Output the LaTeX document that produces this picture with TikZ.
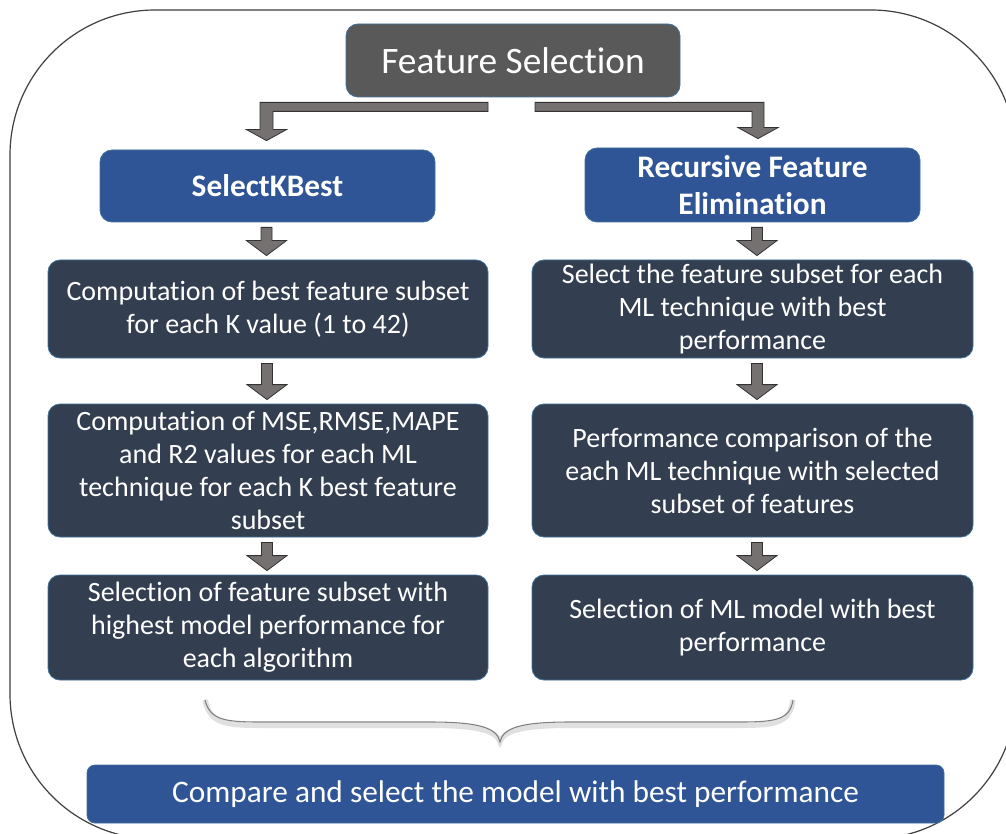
\documentclass[tikz,border=0pt]{standalone}
\usepackage{fontspec}
\setmainfont{Carlito}[Ligatures={CommonOff,ContextualOff},Contextuals=AlternateOff]
\usetikzlibrary{calc}
\definecolor{darkbox}{HTML}{333F50}
\definecolor{bluebox}{HTML}{2F5597}
\definecolor{titlebox}{HTML}{595959}
\definecolor{arrowfill}{HTML}{767171}
\definecolor{edgeblue}{HTML}{41719C}
\newcommand\downblock[3]{%
 \draw[blockarrow] let \p1=(#2.south), \p2=(#3.north) in
  ({\x1+(#1)-4.125pt},{\y1-3.75pt}) -- ({\x1+(#1)+4.125pt},{\y1-3.75pt}) --
  ({\x1+(#1)+4.125pt},{\y2+14.25pt}) -- ({\x1+(#1)+15pt},{\y2+14.25pt}) --
  ({\x1+(#1)},{\y2+3pt}) -- ({\x1+(#1)-15pt},{\y2+14.25pt}) --
  ({\x1+(#1)-4.125pt},{\y2+14.25pt}) -- cycle;}
\begin{document}
\begin{tikzpicture}[x=0.75pt,y=-0.75pt,
  base/.style={draw=edgeblue, line width=0.6pt, rounded corners=9pt, text=white, align=center, inner sep=0pt},
  darkstep/.style={base, fill=darkbox, font=\fontsize{21}{24.75}\selectfont},
  headbox/.style={base, fill=bluebox, font=\fontsize{23.5}{27.75}\selectfont\bfseries, minimum width=251.25pt},
  blockarrow/.style={fill=arrowfill, draw=black!80, line width=0.6pt},
  bracestyle/.style={draw=black!50, line width=0.8pt},
  frame/.style={draw=black!75, line width=0.9pt, rounded corners=108.75pt}]
\useasboundingbox (0,0) rectangle (1006,834);
\clip (0,0) rectangle (1006,834);
\fill[white] (0,0) rectangle (1006,834);
\draw[frame] (10,10) rectangle (1016,839);

\node[base, fill=titlebox, minimum width=250.5pt, minimum height=54.75pt, font=\fontsize{28}{33}\selectfont] (fs) at (513,60.5) {Feature Selection};

\node[headbox, minimum height=54pt] (skb) at (267.5,186) {SelectKBest};
\node[headbox, minimum height=55.5pt] (rfe) at (752.5,185) {Recursive Feature\\Elimination};

\node[darkstep, minimum width=330pt, minimum height=73.5pt] (l1) at (268,309) {Computation of best feature subset\\for each K value (1 to 42)};
\node[darkstep, minimum width=330pt, minimum height=99.75pt] (l2) at (268,470.5) {Computation of MSE,RMSE,MAPE\\and R2 values for each ML\\technique for each K best feature\\subset};
\node[darkstep, minimum width=330pt, minimum height=78.75pt] (l3) at (268,627.5) {Selection of feature subset with\\highest model performance for\\each algorithm};

\node[darkstep, minimum width=330.75pt, minimum height=73.5pt] (r1) at (752.5,309) {Select the feature subset for each\\ML technique with best\\performance};
\node[darkstep, minimum width=330.75pt, minimum height=99.75pt] (r2) at (752.5,470.5) {Performance comparison of the\\each ML technique with selected\\subset of features};
\node[darkstep, minimum width=330.75pt, minimum height=78.75pt] (r3) at (752.5,627.5) {Selection of ML model with best\\performance};

\node[base, fill=bluebox, minimum width=642.75pt, minimum height=43.5pt, rounded corners=6pt, font=\fontsize{23.5}{27.75}\selectfont] (cmp) at (515.5,794) {Compare and select the model with best performance};

% top split connectors
\draw[blockarrow] let \p1=(fs.south), \p2=(skb.north) in
  ({\x1-18.75pt},{\y1-3.75pt}) -- ({\x2-5.625pt},{\y1-3.75pt}) -- ({\x2-5.625pt},{\y2+15pt}) --
  ({\x2-15.75pt},{\y2+15pt}) -- ({\x2-0.75pt},{\y2+6.75pt}) -- ({\x2+14.25pt},{\y2+15pt}) --
  ({\x2+4.125pt},{\y2+15pt}) -- ({\x2+4.125pt},{\y1-10.5pt}) -- ({\x1-18.75pt},{\y1-10.5pt}) -- cycle;
\draw[blockarrow] let \p1=(fs.south), \p2=(rfe.north) in
  ({\x1+16.5pt},{\y1-3.75pt}) -- ({\x2+8.625pt},{\y1-3.75pt}) -- ({\x2+8.625pt},{\y2+15pt}) --
  ({\x2+19.125pt},{\y2+15pt}) -- ({\x2+4.125pt},{\y2+6.75pt}) -- ({\x2-10.875pt},{\y2+15pt}) --
  ({\x2-0.375pt},{\y2+15pt}) -- ({\x2-0.375pt},{\y1-10.5pt}) -- ({\x1+16.5pt},{\y1-10.5pt}) -- cycle;

% column arrows
\downblock{-0.75pt}{skb}{l1}
\downblock{-0.75pt}{l1}{l2}
\downblock{-0.75pt}{l2}{l3}
\downblock{3.375pt}{rfe}{r1}
\downblock{3.375pt}{r1}{r2}
\downblock{3.375pt}{r2}{r3}

% brace
\coordinate (bl) at (205,700);
\coordinate (br) at (793,700);
\coordinate (btip) at (500,742);
\draw[draw=black!12, line width=4pt, yshift=-2.5pt]
  (bl) .. controls (210,720) and (225,722) .. (260,722) -- (430,722)
  .. controls (480,722) and (497,728) .. (btip)
  .. controls (503,728) and (520,722) .. (570,722) -- (740,722)
  .. controls (775,722) and (790,720) .. (br);
\draw[bracestyle]
  (bl) .. controls (210,720) and (225,722) .. (260,722) -- (430,722)
  .. controls (480,722) and (497,728) .. (btip)
  .. controls (503,728) and (520,722) .. (570,722) -- (740,722)
  .. controls (775,722) and (790,720) .. (br);
\end{tikzpicture}
\end{document}
